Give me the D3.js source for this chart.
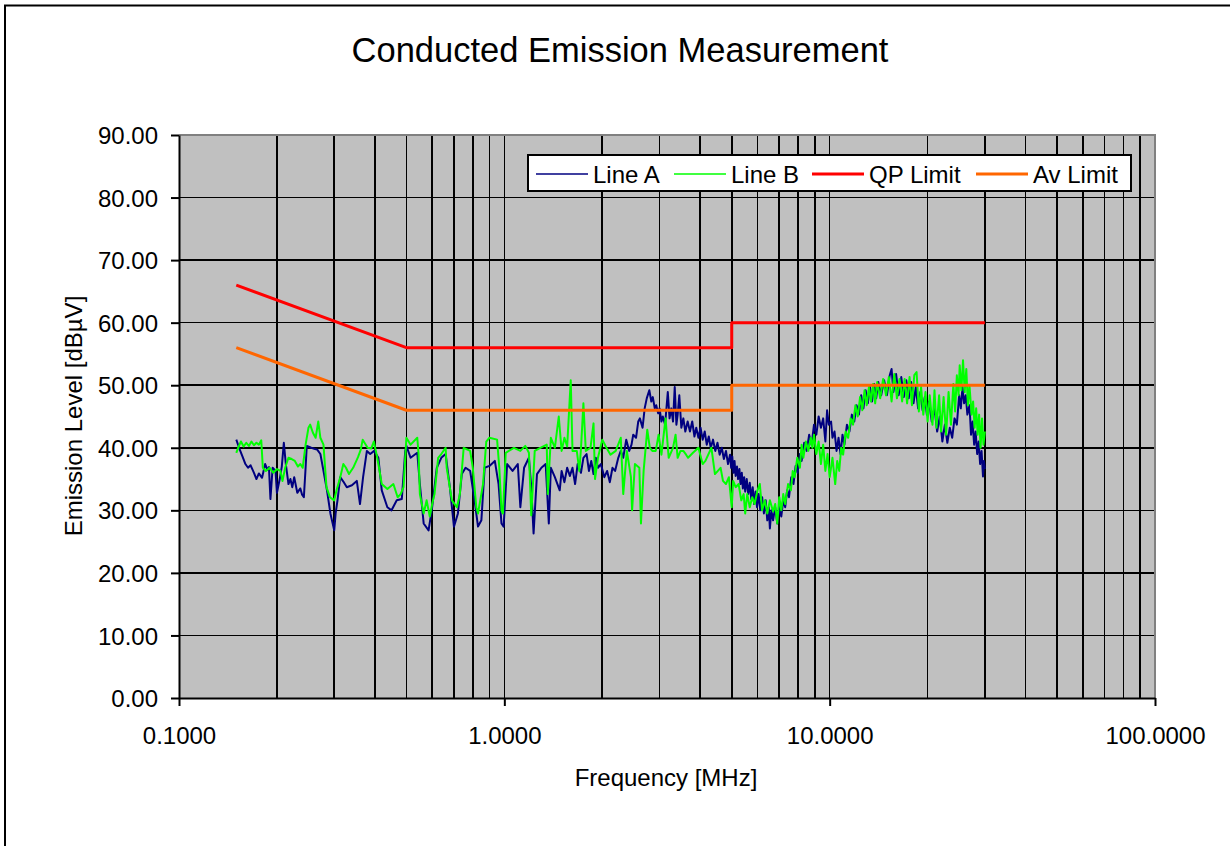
<!DOCTYPE html>
<html>
<head>
<meta charset="utf-8">
<script src="https://cdn.jsdelivr.net/npm/d3@7"></script>
<style>
  body { margin: 0; background: #fff; }
  svg { display: block; font-family: Arial, "Liberation Sans", sans-serif; }
</style>
</head>
<body>
<svg id="chart"></svg>
<script>
// [frequency MHz, level dBuV]
const lineA = [
  [0.150, 41.3], [0.153, 40.0], [0.157, 38.5], [0.160, 37.4], [0.163, 36.8], [0.166, 37.2],
  [0.170, 36.0], [0.173, 35.0], [0.176, 35.9], [0.180, 35.2], [0.184, 37.4], [0.187, 36.5],
  [0.189, 36.9], [0.191, 31.8], [0.194, 36.8], [0.198, 36.3], [0.200, 32.8], [0.204, 35.0],
  [0.207, 37.0], [0.210, 40.8], [0.213, 37.4], [0.217, 34.2], [0.220, 35.0], [0.223, 33.7],
  [0.226, 35.3], [0.231, 32.8], [0.236, 33.5], [0.239, 32.5], [0.242, 32.1], [0.245, 36.8],
  [0.247, 40.3], [0.255, 40.0], [0.262, 39.8], [0.266, 39.7], [0.272, 39.0], [0.278, 36.3],
  [0.285, 33.2], [0.292, 29.5], [0.300, 26.8], [0.303, 29.5], [0.307, 31.6], [0.313, 35.3],
  [0.320, 34.6], [0.328, 33.7], [0.340, 34.0], [0.352, 34.7], [0.360, 31.0], [0.368, 35.3],
  [0.378, 39.5], [0.387, 39.0], [0.398, 39.5], [0.410, 38.4], [0.420, 33.2], [0.437, 30.5],
  [0.450, 30.0], [0.467, 31.6], [0.484, 31.8], [0.496, 39.5], [0.500, 40.3], [0.515, 38.4],
  [0.540, 39.2], [0.550, 34.2], [0.565, 27.9], [0.585, 26.8], [0.600, 30.5], [0.620, 36.8],
  [0.640, 38.4], [0.660, 39.0], [0.680, 33.7], [0.700, 27.4], [0.720, 29.5], [0.740, 35.8],
  [0.760, 36.8], [0.785, 36.3], [0.810, 31.6], [0.830, 27.4], [0.850, 28.4], [0.870, 36.8],
  [0.900, 37.1], [0.935, 37.9], [0.960, 34.2], [0.980, 27.9], [0.995, 27.4], [1.02, 37.4],
  [1.06, 36.3], [1.10, 37.4], [1.12, 30.5], [1.15, 36.8], [1.19, 38.4], [1.21, 33.7],
  [1.23, 26.3], [1.26, 35.8], [1.30, 36.8], [1.34, 37.4], [1.37, 27.9], [1.39, 36.8],
  [1.43, 35.3], [1.48, 33.2], [1.50, 36.3], [1.53, 34.5], [1.56, 36.8], [1.59, 35.5],
  [1.62, 36.8], [1.65, 34.2], [1.68, 37.4], [1.72, 36.0], [1.75, 38.4], [1.79, 39.0],
  [1.82, 36.3], [1.85, 37.9], [1.88, 35.8], [1.91, 38.4], [1.94, 36.8], [1.98, 37.4],
  [2.03, 35.3], [2.07, 36.3], [2.11, 34.5], [2.15, 36.8], [2.19, 36.3], [2.24, 38.4],
  [2.28, 39.5], [2.32, 38.4], [2.37, 41.3], [2.42, 39.5], [2.46, 40.5], [2.49, 42.1],
  [2.54, 41.6], [2.58, 44.2], [2.61, 44.7], [2.66, 43.2], [2.70, 46.3], [2.74, 47.9],
  [2.79, 49.2], [2.83, 47.4], [2.86, 48.1], [2.90, 46.3], [2.93, 46.8], [2.97, 45.5],
  [3.00, 46.3], [3.04, 44.2], [3.07, 45.0], [3.12, 43.7], [3.18, 48.9], [3.22, 44.7],
  [3.26, 46.3], [3.30, 44.2], [3.34, 49.7], [3.38, 43.7], [3.41, 45.3], [3.45, 48.4],
  [3.50, 43.2], [3.55, 44.7], [3.60, 42.6], [3.66, 44.2], [3.72, 42.6], [3.78, 44.2],
  [3.84, 41.8], [3.89, 43.2], [3.95, 41.6], [4.01, 43.2], [4.07, 41.3], [4.13, 42.6],
  [4.19, 40.5], [4.25, 41.8], [4.31, 40.0], [4.38, 41.3], [4.45, 39.5], [4.52, 40.8],
  [4.59, 38.9], [4.66, 40.0], [4.73, 38.2], [4.80, 39.5], [4.87, 37.4], [4.94, 38.9],
  [4.98, 36.8], [5.02, 38.6], [5.06, 36.0], [5.10, 37.9], [5.14, 35.5], [5.19, 37.0],
  [5.23, 35.0], [5.28, 36.6], [5.32, 34.2], [5.37, 36.0], [5.41, 33.5], [5.46, 35.3],
  [5.50, 33.0], [5.56, 35.0], [5.62, 32.6], [5.68, 34.4], [5.74, 31.8], [5.80, 33.7],
  [5.86, 31.0], [5.92, 33.0], [5.98, 30.5], [6.05, 32.6], [6.12, 30.0], [6.20, 32.1],
  [6.28, 29.5], [6.36, 31.6], [6.43, 28.4], [6.50, 30.5], [6.55, 27.1], [6.62, 30.0],
  [6.70, 28.4], [6.80, 30.5], [6.90, 27.9], [7.00, 30.5], [7.10, 29.0], [7.20, 31.6],
  [7.30, 30.5], [7.40, 33.2], [7.50, 32.1], [7.62, 35.3], [7.74, 34.2], [7.86, 37.1],
  [7.97, 36.0], [8.10, 39.0], [8.20, 37.9], [8.35, 40.8], [8.50, 39.5], [8.65, 42.1],
  [8.80, 40.5], [8.95, 43.7], [9.10, 42.1], [9.25, 45.0], [9.40, 43.2], [9.55, 44.7],
  [9.70, 41.0], [9.82, 46.0], [9.94, 43.7], [10.1, 44.2], [10.2, 41.6], [10.35, 42.6],
  [10.5, 39.5], [10.65, 41.6], [10.8, 39.0], [10.95, 42.1], [11.1, 40.5], [11.3, 43.7],
  [11.5, 42.6], [11.7, 45.3], [11.9, 44.2], [12.1, 46.8], [12.3, 45.3], [12.5, 48.4],
  [12.7, 46.3], [12.9, 49.2], [13.1, 47.1], [13.3, 49.7], [13.5, 47.4], [13.7, 50.2],
  [13.9, 47.9], [14.1, 50.5], [14.4, 48.4], [14.7, 50.8], [15.0, 48.4], [15.3, 51.6],
  [15.5, 52.6], [15.7, 48.9], [16.0, 51.8], [16.3, 48.4], [16.6, 51.3], [16.9, 48.1],
  [17.2, 50.8], [17.5, 47.9], [17.8, 50.5], [18.1, 47.1], [18.4, 49.7], [18.7, 46.3],
  [19.0, 48.9], [19.3, 46.0], [19.6, 48.1], [19.9, 45.3], [20.2, 47.4], [20.6, 44.2],
  [21.0, 46.3], [21.4, 42.6], [21.8, 45.0], [22.2, 41.0], [22.6, 43.7], [23.0, 40.8],
  [23.4, 43.2], [23.8, 41.6], [24.2, 44.7], [24.6, 43.7], [25.0, 48.4], [25.3, 46.3],
  [25.6, 49.7], [25.9, 47.1], [26.2, 48.4], [26.5, 45.3], [26.9, 46.8], [27.2, 42.1],
  [27.5, 44.2], [27.8, 40.5], [28.1, 42.6], [28.4, 39.0], [28.7, 41.0], [29.0, 37.4],
  [29.3, 39.5], [29.6, 35.4], [29.8, 37.9], [30.0, 36.6]
];

const lineB = [
  [0.150, 39.2], [0.152, 40.0], [0.155, 41.0], [0.158, 40.2], [0.161, 40.8], [0.164, 40.3],
  [0.167, 41.0], [0.170, 40.4], [0.173, 40.8], [0.176, 40.5], [0.179, 41.2], [0.181, 36.8],
  [0.185, 36.3], [0.190, 36.8], [0.195, 36.0], [0.200, 36.6], [0.205, 36.3], [0.208, 34.7],
  [0.212, 36.8], [0.217, 38.4], [0.222, 38.2], [0.227, 37.9], [0.232, 37.0], [0.236, 37.4],
  [0.240, 36.8], [0.245, 40.5], [0.250, 43.2], [0.253, 43.7], [0.258, 42.4], [0.263, 41.6],
  [0.268, 44.2], [0.272, 41.6], [0.278, 40.5], [0.284, 33.7], [0.291, 32.1], [0.300, 31.6],
  [0.305, 33.2], [0.313, 35.3], [0.320, 37.4], [0.326, 36.8], [0.333, 35.8], [0.343, 36.8],
  [0.355, 38.5], [0.362, 39.7], [0.367, 41.3], [0.380, 40.0], [0.390, 39.9], [0.397, 41.0],
  [0.405, 38.9], [0.410, 37.4], [0.420, 34.2], [0.437, 33.4], [0.456, 34.2], [0.470, 32.1],
  [0.480, 32.6], [0.490, 33.7], [0.500, 41.6], [0.515, 40.5], [0.540, 41.6], [0.545, 39.0],
  [0.550, 32.6], [0.565, 29.5], [0.577, 31.6], [0.590, 29.0], [0.600, 31.0], [0.610, 32.6],
  [0.626, 38.4], [0.640, 39.0], [0.660, 40.0], [0.665, 36.8], [0.690, 31.6], [0.715, 30.5],
  [0.730, 32.6], [0.750, 40.0], [0.785, 39.5], [0.800, 36.8], [0.820, 30.5], [0.830, 29.5],
  [0.860, 34.2], [0.880, 41.0], [0.900, 41.6], [0.950, 41.3], [0.965, 36.8], [0.980, 30.0],
  [0.990, 29.5], [1.01, 39.2], [1.07, 40.0], [1.12, 39.5], [1.16, 40.3], [1.19, 39.2],
  [1.21, 29.2], [1.24, 39.5], [1.29, 40.0], [1.35, 40.5], [1.36, 32.6], [1.39, 41.6],
  [1.43, 40.0], [1.47, 45.0], [1.50, 39.5], [1.53, 41.6], [1.56, 40.2], [1.60, 50.8],
  [1.62, 39.5], [1.67, 39.5], [1.70, 36.3], [1.72, 39.8], [1.75, 47.1], [1.78, 39.5],
  [1.84, 40.0], [1.88, 43.9], [1.90, 35.0], [1.94, 38.4], [2.00, 41.3], [2.06, 40.0],
  [2.12, 38.9], [2.20, 39.5], [2.28, 41.6], [2.32, 32.6], [2.38, 39.5], [2.45, 35.3],
  [2.47, 30.0], [2.52, 37.4], [2.60, 36.8], [2.63, 27.9], [2.68, 36.3], [2.75, 42.9],
  [2.80, 40.0], [2.85, 39.5], [2.92, 39.5], [2.98, 42.1], [3.04, 38.9], [3.13, 44.7],
  [3.20, 38.4], [3.30, 40.0], [3.36, 42.1], [3.41, 38.4], [3.48, 39.5], [3.55, 39.5],
  [3.62, 38.9], [3.67, 38.4], [3.80, 39.2], [3.95, 40.0], [4.07, 37.4], [4.15, 37.9],
  [4.33, 40.0], [4.44, 35.8], [4.62, 36.8], [4.70, 34.7], [4.80, 34.2], [4.90, 35.3],
  [5.00, 30.5], [5.05, 34.7], [5.14, 33.7], [5.25, 34.2], [5.35, 31.6], [5.44, 32.6],
  [5.50, 29.5], [5.58, 32.6], [5.68, 30.5], [5.78, 32.1], [5.88, 31.0], [6.00, 33.2],
  [6.10, 34.2], [6.20, 30.0], [6.32, 31.6], [6.43, 29.5], [6.55, 31.6], [6.70, 29.8],
  [6.80, 31.0], [6.90, 27.9], [7.00, 32.1], [7.10, 30.0], [7.20, 32.6], [7.30, 31.0],
  [7.45, 34.2], [7.60, 33.2], [7.70, 36.3], [7.80, 35.3], [7.95, 38.4], [8.10, 36.8],
  [8.20, 40.5], [8.30, 38.4], [8.45, 41.0], [8.60, 39.5], [8.75, 41.6], [8.85, 40.0],
  [8.95, 42.1], [9.10, 39.0], [9.25, 41.0], [9.40, 37.4], [9.55, 40.5], [9.70, 36.3],
  [9.85, 39.0], [10.0, 35.3], [10.2, 38.4], [10.4, 34.2], [10.55, 37.9], [10.7, 36.3],
  [10.85, 40.0], [11.0, 38.9], [11.2, 42.6], [11.4, 41.6], [11.6, 44.7], [11.8, 43.7],
  [12.0, 46.8], [12.2, 45.0], [12.4, 48.1], [12.6, 46.0], [12.8, 49.2], [13.0, 46.8],
  [13.2, 49.7], [13.4, 47.4], [13.6, 50.2], [13.8, 47.1], [14.0, 50.5], [14.3, 47.9],
  [14.6, 51.0], [14.9, 48.4], [15.2, 51.3], [15.5, 47.4], [15.8, 51.8], [16.1, 47.9],
  [16.4, 51.0], [16.7, 47.4], [17.0, 51.0], [17.3, 47.1], [17.6, 51.3], [17.9, 46.8],
  [18.2, 51.6], [18.5, 52.1], [18.8, 45.8], [19.1, 49.7], [19.4, 45.3], [19.7, 48.9],
  [20.0, 44.2], [20.3, 48.4], [20.7, 43.7], [21.0, 49.2], [21.3, 43.2], [21.7, 48.4],
  [22.0, 42.6], [22.4, 48.1], [22.8, 42.1], [23.2, 48.9], [23.6, 43.7], [24.0, 50.2],
  [24.3, 45.8], [24.6, 51.6], [24.9, 48.4], [25.1, 53.2], [25.4, 49.2], [25.7, 54.0],
  [26.0, 48.9], [26.3, 52.6], [26.6, 46.8], [26.9, 50.0], [27.3, 45.3], [27.6, 47.4],
  [27.9, 43.2], [28.2, 46.3], [28.5, 42.1], [28.8, 45.3], [29.1, 40.0], [29.4, 44.7],
  [29.7, 40.5], [30.0, 42.6]
];

const qpLimit = [[0.15, 66], [0.5, 56], [5, 56], [5, 60], [30, 60]];
const avLimit = [[0.15, 56], [0.5, 46], [5, 46], [5, 50], [30, 50]];

const seriesNames = ["Line A", "Line B", "QP Limit", "Av Limit"];
const seriesColors = ["#000080", "#00ff00", "#ff0000", "#ff6600"];

const yTicks = [0, 10, 20, 30, 40, 50, 60, 70, 80, 90];
const xTicks = [0.1, 1, 10, 100];

function main() {
  const width = 1230, height = 846;
  const plot = {left: 179, right: 1155, top: 135, bottom: 698};

  const svg = d3.select("#chart")
    .attr("width", width)
    .attr("height", height);

  // outer chart border (runs off the right/bottom of the picture)
  svg.append("rect")
    .attr("x", 5).attr("y", 5.5)
    .attr("width", 1240).attr("height", 860)
    .attr("fill", "#fff")
    .attr("stroke", "#000").attr("stroke-width", 2);

  const x = d3.scaleLog().domain([0.1, 100]).range([plot.left, plot.right]);
  const y = d3.scaleLinear().domain([0, 90]).range([plot.bottom, plot.top]);

  svg.append("rect")
    .attr("x", plot.left).attr("y", plot.top)
    .attr("width", plot.right - plot.left)
    .attr("height", plot.bottom - plot.top)
    .attr("fill", "#c0c0c0");

  // grid
  const grid = svg.append("g")
    .attr("stroke", "#000")
    .attr("stroke-width", 1.6)
    .attr("shape-rendering", "crispEdges");

  let minorX = [];
  [0.1, 1, 10].forEach(d => {
    for (let k = 1; k < 10; k++) minorX.push(d * k);
  });
  minorX = minorX.filter(d => d > 0.1);

  grid.selectAll("line.v")
    .data(minorX).enter()
    .append("line")
      .attr("x1", d => x(d)).attr("x2", d => x(d))
      .attr("y1", plot.top).attr("y2", plot.bottom);

  grid.selectAll("line.h")
    .data(yTicks.filter(d => d > 0 && d < 90)).enter()
    .append("line")
      .attr("x1", plot.left).attr("x2", plot.right)
      .attr("y1", d => y(d)).attr("y2", d => y(d));

  // frame: grey top/right, black axes
  svg.append("path")
    .attr("d", `M${plot.left},${plot.top}H${plot.right}V${plot.bottom}`)
    .attr("fill", "none")
    .attr("stroke", "#808080").attr("stroke-width", 2)
    .attr("shape-rendering", "crispEdges");

  const yAxis = svg.append("g")
    .attr("transform", `translate(${plot.left},0)`)
    .call(d3.axisLeft(y).tickValues(yTicks).tickSize(8).tickSizeOuter(0)
      .tickFormat(d3.format(".2f")));

  const xAxis = svg.append("g")
    .attr("transform", `translate(0,${plot.bottom})`)
    .call(d3.axisBottom(x).tickValues(xTicks).tickSize(8).tickSizeOuter(0)
      .tickFormat(d3.format(".4f")));

  [yAxis, xAxis].forEach(ax => {
    ax.select(".domain").attr("stroke", "#000").attr("stroke-width", 2);
    ax.selectAll(".tick line").attr("stroke", "#000").attr("stroke-width", 2);
    ax.selectAll("text")
      .attr("fill", "#000")
      .attr("font-size", 24)
      .attr("font-family", "Arial, 'Liberation Sans', sans-serif");
  });
  yAxis.selectAll("text").attr("x", -21).attr("dy", "0.36em");
  xAxis.selectAll("text").attr("y", 29).attr("dy", "0.71em");

  // series
  const lineMaker = d3.line().x(d => x(d[0])).y(d => y(d[1]));
  const series = [lineA, lineB, qpLimit, avLimit];
  const widths = [2, 2, 3, 3];

  svg.append("g")
    .selectAll("path")
    .data(series).enter()
    .append("path")
      .attr("d", d => lineMaker(d))
      .attr("fill", "none")
      .attr("stroke", (d, i) => seriesColors[i])
      .attr("stroke-width", (d, i) => widths[i])
      .attr("stroke-linejoin", "round");

  // titles
  svg.append("text")
    .attr("x", 620).attr("y", 62)
    .attr("text-anchor", "middle")
    .attr("font-size", 34.5)
    .text("Conducted Emission Measurement");

  svg.append("text")
    .attr("x", 666).attr("y", 786)
    .attr("text-anchor", "middle")
    .attr("font-size", 24)
    .text("Frequency [MHz]");

  svg.append("text")
    .attr("transform", "translate(82,416) rotate(-90)")
    .attr("text-anchor", "middle")
    .attr("font-size", 24)
    .text("Emission Level [dBµV]");

  // legend
  const legend = svg.append("g");
  legend.append("rect")
    .attr("x", 528).attr("y", 155)
    .attr("width", 603).attr("height", 36)
    .attr("fill", "#fff")
    .attr("stroke", "#000").attr("stroke-width", 2);

  const itemX = [536, 674, 812, 976];
  seriesNames.forEach((name, i) => {
    legend.append("line")
      .attr("x1", itemX[i]).attr("x2", itemX[i] + 52)
      .attr("y1", 174).attr("y2", 174)
      .attr("stroke", seriesColors[i])
      .attr("stroke-width", i < 2 ? 1.5 : 3);
    legend.append("text")
      .attr("x", itemX[i] + 57).attr("y", 183)
      .attr("font-size", 24)
      .text(name);
  });
}

window.addEventListener("load", main);
</script>
</body>
</html>
